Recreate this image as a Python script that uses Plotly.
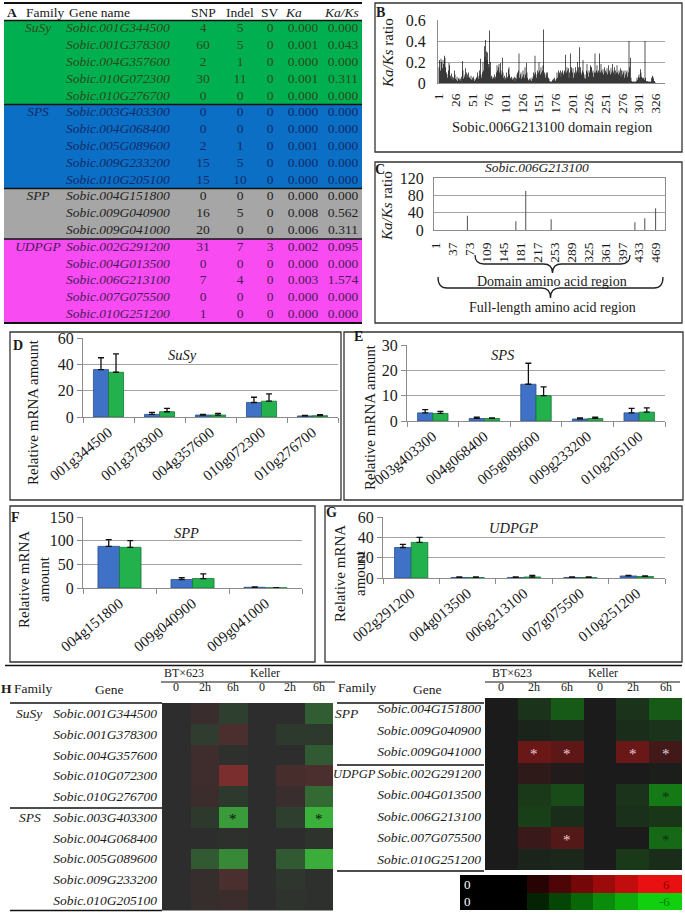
import plotly.graph_objects as go

W, H = 685, 915
FONT = "Liberation Serif"
TXT = "#1a1a1a"

# ---------------- Panel A: table ----------------
families = ["SuSy"] * 5 + ["SPS"] * 5 + ["SPP"] * 3 + ["UDPGP"] * 5
genes = ["Sobic.001G344500", "Sobic.001G378300", "Sobic.004G357600", "Sobic.010G072300", "Sobic.010G276700",
         "Sobic.003G403300", "Sobic.004G068400", "Sobic.005G089600", "Sobic.009G233200", "Sobic.010G205100",
         "Sobic.004G151800", "Sobic.009G040900", "Sobic.009G041000",
         "Sobic.002G291200", "Sobic.004G013500", "Sobic.006G213100", "Sobic.007G075500", "Sobic.010G251200"]
snp = [4, 60, 2, 30, 0, 0, 0, 2, 15, 15, 0, 16, 20, 31, 0, 7, 0, 1]
indel = [5, 5, 1, 11, 0, 0, 0, 1, 5, 10, 0, 5, 0, 7, 0, 4, 0, 0]
sv = [0, 0, 0, 0, 0, 0, 0, 0, 0, 0, 0, 0, 0, 3, 0, 0, 0, 0]
ka = [0.000, 0.001, 0.000, 0.001, 0.000, 0.000, 0.000, 0.001, 0.000, 0.000,
      0.000, 0.008, 0.006, 0.002, 0.000, 0.003, 0.000, 0.000]
kaks = [0.000, 0.043, 0.000, 0.311, 0.000, 0.000, 0.000, 0.000, 0.000, 0.000,
        0.000, 0.562, 0.311, 0.095, 0.000, 1.574, 0.000, 0.000]
family_order = ["SuSy", "SPS", "SPP", "UDPGP"]
family_fill = ["#00B050", "#0B6FC6", "#A6A6A6", "#F84CF2"]
family_ink = {"SuSy": "#2c4a1c", "SPS": "#122b66", "SPP": "#222222", "UDPGP": "#4a1a58"}

# ---------------- Panel B ----------------
b_positions = list(range(1, 326))
b_kaks = [0.15, 0.22, 0.12, 0.23, 0.2, 0.14, 0.22, 0.18, 0.26, 0.24, 0.15, 0.1, 0.08, 0.05, 0.12, 0.19, 0.17, 0.07, 0.04, 0.09, 0.06, 0.03, 0.05, 0.12, 0.08,
          0.04, 0.03, 0.06, 0.02, 0.04, 0.05, 0.03, 0.04, 0.02, 0.06, 0.21, 0.12, 0.04, 0.06, 0.08, 0.14, 0.1, 0.05, 0.08, 0.1, 0.06, 0.05, 0.04, 0.07, 0.03,
          0.05, 0.03, 0.06, 0.02, 0.04, 0.03, 0.05, 0.06, 0.1, 0.04, 0.07, 0.12, 0.23, 0.08, 0.05, 0.1, 0.2, 0.12, 0.35, 0.25, 0.41, 0.3, 0.22, 0.29, 0.18,
          0.15, 0.5, 0.2, 0.05, 0.07, 0.04, 0.06, 0.05, 0.08, 0.04, 0.06, 0.1, 0.17, 0.12, 0.15, 0.18, 0.1, 0.19, 0.12, 0.08, 0.24, 0.1, 0.05, 0.07, 0.03,
          0.05, 0.1, 0.04, 0.06, 0.13, 0.15, 0.08, 0.05, 0.04, 0.06, 0.03, 0.05, 0.04, 0.06, 0.02, 0.05, 0.04, 0.08, 0.1, 0.12, 0.28, 0.05, 0.08, 0.1, 0.04,
          0.06, 0.12, 0.08, 0.05, 0.15, 0.08, 0.19, 0.1, 0.05, 0.03, 0.02, 0.04, 0.03, 0.05, 0.02, 0.04, 0.06, 0.1, 0.08, 0.26, 0.1, 0.05, 0.08, 0.12, 0.1,
          0.2, 0.12, 0.08, 0.15, 0.1, 0.12, 0.17, 0.51, 0.1, 0.08, 0.05, 0.1, 0.07, 0.1, 0.05, 0.04, 0.02, 0.01, 0.02, 0.01, 0.03, 0.02, 0.04, 0.05, 0.03,
          0.02, 0.04, 0.1, 0.05, 0.12, 0.08, 0.1, 0.12, 0.06, 0.1, 0.12, 0.1, 0.08, 0.12, 0.1, 0.27, 0.1, 0.15, 0.12, 0.14, 0.05, 0.1, 0.28, 0.12, 0.15,
          0.1, 0.14, 0.05, 0.1, 0.08, 0.15, 0.1, 0.12, 0.2, 0.15, 0.1, 0.34, 0.15, 0.1, 0.08, 0.12, 0.22, 0.1, 0.05, 0.08, 0.04, 0.12, 0.18, 0.1, 0.06,
          0.12, 0.1, 0.17, 0.15, 0.15, 0.1, 0.12, 0.06, 0.1, 0.28, 0.1, 0.12, 0.17, 0.1, 0.12, 0.1, 0.28, 0.1, 0.18, 0.12, 0.1, 0.13, 0.08, 0.15, 0.1,
          0.12, 0.1, 0.14, 0.08, 0.17, 0.1, 0.12, 0.08, 0.14, 0.1, 0.18, 0.12, 0.1, 0.15, 0.08, 0.12, 0.1, 0.17, 0.1, 0.08, 0.12, 0.1, 0.14, 0.06, 0.12,
          0.08, 0.12, 0.1, 0.05, 0.12, 0.08, 0.1, 0.12, 0.06, 0.1, 0.4, 0.15, 0.24, 0.05, 0.02, 0.01, 0.02, 0.01, 0.01, 0.02, 0.01, 0.02, 0.05, 0.03, 0.06,
          0.08, 0.05, 0.13, 0.1, 0.06, 0.05, 0.04, 0.05, 0.03, 0.4, 0.05, 0.02, 0.01, 0.02, 0.01, 0.02, 0.01, 0.01, 0.02, 0.05, 0.07, 0.06, 0.04, 0.02, 0.01]
b_ticks = [1, 26, 51, 76, 101, 126, 151, 176, 201, 226, 251, 276, 301, 326]

# ---------------- Panel C ----------------
c_positions = [68, 171, 192, 246, 424, 445, 468]
c_kaks = [33, 20, 90, 25, 18, 27, 50]
c_ticks = [1, 37, 73, 109, 145, 181, 217, 253, 289, 325, 361, 397, 433, 469]

# ---------------- Panels D-G (blue = BT×623, green = Keller) ----------------
d_genes = ["001g344500", "001g378300", "004g357600", "010g072300", "010g276700"]
d_bt = [36, 2, 1.5, 11, 0.8]
d_bt_err = [9, 1.5, 0.5, 4, 0.4]
d_kel = [34, 4, 1.5, 12, 1.0]
d_kel_err = [14, 2.5, 1.3, 5.5, 0.8]

e_genes = ["003g403300", "004g068400", "005g089600", "009g233200", "010g205100"]
e_bt = [3.2, 1.0, 14.5, 0.8, 3.2]
e_bt_err = [1.3, 0.5, 8.3, 0.4, 1.8]
e_kel = [3.0, 1.0, 10.0, 1.0, 3.5]
e_kel_err = [0.8, 0.2, 3.5, 0.5, 1.7]

f_genes = ["004g151800", "009g040900", "009g041000"]
f_bt = [88, 18, 1.5]
f_bt_err = [14, 4, 1]
f_kel = [86, 20, 0.5]
f_kel_err = [14, 10, 0.5]

g_genes = ["002g291200", "004g013500", "006g213100", "007g075500", "010g251200"]
g_bt = [30, 0.5, 0.5, 0.5, 2.0]
g_bt_err = [3, 0.5, 0.5, 0.5, 0.5]
g_kel = [35, 0.5, 1.0, 0.5, 1.5]
g_kel_err = [5, 0.5, 1.5, 0.5, 0.5]

# ---------------- Panel H ----------------
h_cols = ["0", "2h", "6h", "0", "2h", "6h"]
h_left_genes = genes[:10]
h_left_z = [[0, 0.4, -0.6, 0, 0, -1.6],
            [0, -0.5, 1.0, 0, -0.4, -0.4],
            [0, 0.6, -0.1, 0, 0, -1.5],
            [0, 0.6, 2.6, 0, 0.9, 1.0],
            [0, 0.5, -0.4, 0, 0.4, -2.0],
            [0, -0.4, -3.7, 0, -0.6, -4.4],
            [0, 0, -0.1, 0, 0, -0.2],
            [0, -1.5, -3.1, 0, -1.5, -4.3],
            [0, 0.3, 1.0, 0, -0.3, -0.1],
            [0, 0.3, 0.5, 0, -0.2, -0.1]]
h_right_genes = genes[10:]
h_right_z = [[0, -0.8, -2.1, 0, -0.8, -2.1],
             [0, -0.3, -0.4, 0, -0.6, -0.8],
             [0, 2.4, 2.0, 0, 2.4, 1.2],
             [0, 0.6, 0.2, 0, 0, -0.1],
             [0, -1.0, -1.6, 0, -0.8, -3.1],
             [0, -1.2, -0.6, 0, -0.7, -0.9],
             [0, 0.9, 1.7, 0, 0, -2.6],
             [0, -0.3, -0.4, 0, -1.0, -0.6]]
h_left_stars = [("Sobic.003G403300", 2), ("Sobic.003G403300", 5)]
h_right_stars_light = [("Sobic.009G041000", 1), ("Sobic.009G041000", 2), ("Sobic.009G041000", 4),
                       ("Sobic.009G041000", 5), ("Sobic.007G075500", 2)]
h_right_stars_dark = [("Sobic.004G013500", 5), ("Sobic.007G075500", 5)]
legend_levels = [[0, 0, 0, 1, 2, 3, 4, 5, 6, 6],
                 [0, 0, 0, -1, -2, -3, -4, -5, -6, -6]]


# ---------------- helpers ----------------
def xd(a, b):
    return [a / W, b / W]


def yd(top, bot):
    return [1 - bot / H, 1 - top / H]


def note(text, x, y, size=14, color=TXT, angle=0, xanchor="center", yanchor="middle"):
    return dict(text=text, x=x / W, y=1 - y / H, xref="paper", yref="paper", showarrow=False,
                font=dict(family=FONT, size=size, color=color), textangle=angle,
                xanchor=xanchor, yanchor=yanchor, borderpad=0)


def hline(y, x0, x1, w=1.2, color="#111"):
    return dict(type="line", xref="paper", yref="paper", x0=x0 / W, x1=x1 / W,
                y0=1 - y / H, y1=1 - y / H, line=dict(color=color, width=w))


def rect(x0, y0, x1, y1, color="#333", w=1.3):
    return dict(type="rect", xref="paper", yref="paper", x0=x0 / W, x1=x1 / W,
                y0=1 - y1 / H, y1=1 - y0 / H, line=dict(color=color, width=w))


def brace(x0, x1, ytop, ymid, ytip, r=9):
    xc = (x0 + x1) / 2

    def P(x, y):
        return f"{x / W:.5f},{1 - y / H:.5f}"
    path = (f"M {P(x0, ytop)} Q {P(x0, ymid)} {P(x0 + r, ymid)} L {P(xc - r, ymid)} "
            f"Q {P(xc, ymid)} {P(xc, ytip)} Q {P(xc, ymid)} {P(xc + r, ymid)} "
            f"L {P(x1 - r, ymid)} Q {P(x1, ymid)} {P(x1, ytop)}")
    return dict(type="path", xref="paper", yref="paper", path=path, line=dict(color="#222", width=1.3))


def diverging(green, base, red):
    return [[0, green], [0.5, base], [1, red]]


fig = go.Figure()
annotations = []
shapes = []

# ---------------- Panel A ----------------
fam_code = [family_order.index(f) for f in families]
fig.add_trace(go.Heatmap(
    x=[4, 362], y=[i - 0.5 for i in range(len(genes) + 1)], z=[[c] for c in fam_code],
    zmin=0, zmax=3, showscale=False, hoverinfo="skip",
    colorscale=[[0, family_fill[0]], [0.17, family_fill[0]], [0.17, family_fill[1]], [0.5, family_fill[1]],
                [0.5, family_fill[2]], [0.83, family_fill[2]], [0.83, family_fill[3]], [1, family_fill[3]]],
    xaxis="x", yaxis="y"))
inks = [family_ink[f] for f in families]
first_rows = [families.index(f) for f in family_order]
fig.add_trace(go.Scatter(
    x=[38] * len(first_rows), y=first_rows, mode="text",
    text=[f"<i>{families[i]}</i>" for i in first_rows],
    textfont=dict(family=FONT, size=13.5, color=[inks[i] for i in first_rows]),
    textposition="middle center", hoverinfo="skip", xaxis="x", yaxis="y"))
fig.add_trace(go.Scatter(
    x=[66] * len(genes), y=list(range(len(genes))), mode="text",
    text=[f"<i>{g}</i>" for g in genes],
    textfont=dict(family=FONT, size=13.5, color=inks),
    textposition="middle right", hoverinfo="skip", xaxis="x", yaxis="y"))
for vals, xpos, fmt in [(snp, 203, "{}"), (indel, 240, "{}"), (sv, 270, "{}"),
                        (ka, 303, "{:.3f}"), (kaks, 343, "{:.3f}")]:
    fig.add_trace(go.Scatter(
        x=[xpos] * len(vals), y=list(range(len(vals))), mode="text",
        text=[fmt.format(v) for v in vals],
        textfont=dict(family=FONT, size=13.5, color=inks),
        textposition="middle center", hoverinfo="skip", xaxis="x", yaxis="y"))

for text, x, anchor in [("<b>A</b>", 5, "left"), ("Family", 24, "left"), ("Gene name", 67, "left"),
                        ("SNP", 203, "center"), ("Indel", 240, "center"), ("SV", 270, "center"),
                        ("<i>Ka</i>", 283, "left"), ("<i>Ka/Ks</i>", 341, "center")]:
    annotations.append(dict(text=text, x=x, y=-1, xref="x", yref="y", showarrow=False,
                            xanchor=anchor, yanchor="middle",
                            font=dict(family=FONT, size=13.5, color=TXT)))
for yv, w in [(-1.55, 2), (-0.5, 1.5), (4.5, 1.5), (9.5, 1.5), (12.5, 1.5), (17.5, 2)]:
    shapes.append(dict(type="line", xref="x", yref="y", x0=4, x1=362, y0=yv, y1=yv,
                       line=dict(color="#111", width=w)))

# ---------------- Panel B ----------------
fig.add_trace(go.Bar(x=b_positions, y=b_kaks, width=1, marker=dict(color="#000", line=dict(width=0)),
                     xaxis="x2", yaxis="y2", hoverinfo="skip"))
# ---------------- Panel C ----------------
fig.add_trace(go.Bar(x=c_positions, y=c_kaks, width=2.2, marker=dict(color="#555", line=dict(width=0)),
                     xaxis="x3", yaxis="y3", hoverinfo="skip"))

# ---------------- Panels D-G ----------------
BLUE, BLUE_L = "#3f72c6", "#2a4f8c"
GREEN, GREEN_L = "#22b14c", "#147a34"
for genes_, bt, bte, kel, kele, ax in [(d_genes, d_bt, d_bt_err, d_kel, d_kel_err, "4"),
                                        (e_genes, e_bt, e_bt_err, e_kel, e_kel_err, "5"),
                                        (f_genes, f_bt, f_bt_err, f_kel, f_kel_err, "6"),
                                        (g_genes, g_bt, g_bt_err, g_kel, g_kel_err, "7")]:
    for vals, errs, col, lcol in [(bt, bte, BLUE, BLUE_L), (kel, kele, GREEN, GREEN_L)]:
        fig.add_trace(go.Bar(
            x=genes_, y=vals, xaxis="x" + ax, yaxis="y" + ax, hoverinfo="skip",
            marker=dict(color=col, line=dict(color=lcol, width=0.8)),
            error_y=dict(type="data", array=errs, arrayminus=[0] * len(errs), symmetric=False,
                         color="#111", thickness=1.3, width=3)))

# ---------------- Panel H ----------------
fig.add_trace(go.Heatmap(z=h_left_z, x=list(range(6)), y=h_left_genes, zmin=-6, zmax=6,
                         colorscale=diverging("#40e040", "#2d2d2d", "#e03030"), showscale=False,
                         xaxis="x8", yaxis="y8", hoverinfo="skip"))
fig.add_trace(go.Heatmap(z=h_right_z, x=list(range(6)), y=h_right_genes, zmin=-6, zmax=6,
                         colorscale=diverging("#10d010", "#1b1b1b", "#e01010"), showscale=False,
                         xaxis="x9", yaxis="y9", hoverinfo="skip"))
fig.add_trace(go.Heatmap(z=legend_levels, x=list(range(10)), y=[0, 1], zmin=-6, zmax=6,
                         colorscale=diverging("#10d010", "#000000", "#e81010"), showscale=False,
                         xaxis="x10", yaxis="y10", hoverinfo="skip"))

for g, c in h_left_stars:
    annotations.append(dict(text="*", x=c, y=g, xref="x8", yref="y8", showarrow=False,
                            font=dict(family=FONT, size=15, color="#111"), yshift=-2))
for g, c in h_right_stars_light:
    annotations.append(dict(text="*", x=c, y=g, xref="x9", yref="y9", showarrow=False,
                            font=dict(family=FONT, size=15, color="#e9cfd6"), yshift=-2))
for g, c in h_right_stars_dark:
    annotations.append(dict(text="*", x=c, y=g, xref="x9", yref="y9", showarrow=False,
                            font=dict(family=FONT, size=15, color="#0f3010"), yshift=-2))
for i, c in enumerate(h_cols):
    annotations.append(dict(text=c, x=i, y=1 - 695 / H, xref="x8", yref="paper", showarrow=False,
                            borderpad=0, font=dict(family=FONT, size=12, color=TXT)))
    annotations.append(dict(text=c, x=i, y=1 - 695 / H, xref="x9", yref="paper", showarrow=False,
                            borderpad=0, font=dict(family=FONT, size=12, color=TXT)))

# ---------------- text annotations ----------------
annotations += [
    note("<b>B</b>", 380, 13, 14),
    note("<i>Ka/Ks</i> ratio", 388, 53, 15, angle=-90),
    note("Sobic.006G213100 domain region", 552, 127, 14.5),
    note("<b>C</b>", 380, 170, 14),
    note("<i>Sobic.006G213100</i>", 537, 168, 13.5),
    note("<i>Ka/Ks</i> ratio", 387, 206, 15, angle=-90),
    note("Domain amino acid region", 552, 281, 14),
    note("Full-length amino acid region", 552, 307, 14),
    note("<b>D</b>", 18, 345, 14),
    note("Relative mRNA amount", 33, 412, 15, angle=-90),
    note("<i>SuSy</i>", 183, 355, 14.5),
    note("<b>E</b>", 358, 336, 14),
    note("Relative mRNA amount", 370, 417, 15, angle=-90),
    note("<i>SPS</i>", 503, 355, 14.5),
    note("<b>F</b>", 16, 517, 14),
    note("Relative mRNA<br>amount", 34, 580, 15, angle=-90),
    note("<i>SPP</i>", 187, 533, 14.5),
    note("<b>G</b>", 331, 512, 14),
    note("Relative mRNA<br>amount", 350, 574, 15, angle=-90),
    note("<i>UDPGP</i>", 513, 528, 14.5),
    note("<b>H</b>", 6, 688, 13.5),
    note("Family", 33, 688, 13.5),
    note("Gene", 109, 689, 13.5),
    note("BT×623", 184, 673, 12),
    note("Keller", 265, 673, 12),
    note("Family", 357, 687, 13.5),
    note("Gene", 427, 689, 13.5),
    note("BT×623", 512, 673, 12),
    note("Keller", 603, 673, 12),
    note("<i>SuSy</i>", 29, 713, 13.5),
    note("<i>SPS</i>", 30, 817, 13.5),
    note("<i>SPP</i>", 346, 713, 13.5),
    note("<i>UDPGP</i>", 354, 774, 12.5),
    note("0", 467, 884, 13, color="#ffffff"),
    note("0", 467, 901, 13, color="#ffffff"),
    note("6", 666, 884, 13, color="#8a0000"),
    note("-6", 664, 901, 13, color="#0a7a0a"),
]

# ---------------- shapes ----------------
shapes += [
    rect(375, 3, 682, 152), rect(375, 162, 682, 323),
    rect(10, 332, 341, 500), rect(344, 332, 683, 500),
    rect(10, 506, 315, 662), rect(325, 506, 682, 662),
    brace(475, 630, 255, 264, 273), brace(438, 663, 277, 288, 298),
    hline(665.5, 5, 682, 1.3),
    hline(682, 161, 335, 1.0), hline(682, 485, 680, 1.0),
    hline(703, 10, 162, 1.5), hline(808, 10, 162, 1.5), hline(910.5, 10, 162, 1.5),
    hline(703, 337, 484, 1.5), hline(765, 337, 484, 1.5), hline(871, 337, 484, 1.5),
]

# ---------------- axes ----------------
tickf = dict(family=FONT, size=16, color=TXT)
hidden = dict(visible=False, showgrid=False, zeroline=False, automargin=False)
GRID = "#a4a4a4"
AXL = "#8c8c8c"

layout = dict(
    width=W, height=H, margin=dict(l=0, r=0, t=0, b=0, pad=0, autoexpand=False),
    paper_bgcolor="white", plot_bgcolor="white", showlegend=False,
    barmode="group", bargap=0.41, bargroupgap=0, hovermode=False,
    annotations=annotations, shapes=shapes,
    # table
    xaxis=dict(domain=xd(0, 365), range=[0, 365], anchor="y", **hidden),
    yaxis=dict(domain=yd(2.1, 324.7), range=[17.6, -1.6], anchor="x", **hidden),
    # B
    xaxis2=dict(domain=xd(438, 665), range=[-0.5, 340], anchor="y2", tickvals=b_ticks, tickangle=-90,
                tickfont=dict(family=FONT, size=13.5, color=TXT), showline=True, linecolor=AXL,
                showgrid=False, zeroline=False, ticks="", ticklabelstandoff=4, automargin=False),
    yaxis2=dict(domain=yd(20, 83), range=[0, 0.6], anchor="x2", tickvals=[0, 0.2, 0.4, 0.6],
                ticktext=["0", "0.2", "0.4", "0.6"], tickfont=tickf, showgrid=True, gridcolor=GRID,
                showline=True, linecolor=AXL, zeroline=False, ticks="", ticklabelstandoff=8,
                automargin=False),
    # C
    xaxis3=dict(domain=xd(434, 665), range=[-3, 488], anchor="y3", tickvals=c_ticks, tickangle=-90,
                tickfont=dict(family=FONT, size=13.5, color=TXT), showline=True, mirror=True,
                linecolor=AXL, showgrid=False, zeroline=False, ticks="", ticklabelstandoff=6,
                automargin=False),
    yaxis3=dict(domain=yd(178, 230), range=[0, 120], anchor="x3", tickvals=[0, 40, 80, 120],
                tickfont=tickf, showgrid=True, gridcolor=GRID, showline=True, mirror=True,
                linecolor=AXL, zeroline=False, ticks="", ticklabelstandoff=6, automargin=False),
)

for ax, xdom, ydom, yr, ytv in [("4", (83, 338), (338, 417), 60, [0, 20, 40, 60]),
                                 ("5", (407, 665), (345, 421), 30, [0, 10, 20, 30]),
                                 ("6", (83, 302), (517, 588), 150, [0, 50, 100, 150]),
                                 ("7", (383, 665), (517, 578), 60, [0, 20, 40, 60])]:
    layout["xaxis" + ax] = dict(domain=xd(*xdom), anchor="y" + ax, type="category", tickangle=-39,
                                tickfont=dict(family=FONT, size=15, color=TXT), showline=True,
                                linecolor=AXL, ticks="outside", tickson="boundaries", ticklen=5,
                                tickcolor=AXL, showgrid=False, zeroline=False, automargin=False)
    layout["yaxis" + ax] = dict(domain=yd(*ydom), anchor="x" + ax, range=[0, yr], tickvals=ytv,
                                tickfont=tickf, showgrid=True, gridcolor=GRID, showline=True,
                                linecolor=AXL, ticks="outside", ticklen=5, tickcolor=AXL,
                                zeroline=False, automargin=False)

layout["xaxis8"] = dict(domain=xd(162, 333), range=[-0.5, 5.5], anchor="y8", **hidden)
layout["yaxis8"] = dict(domain=yd(703, 910.5), anchor="x8", autorange="reversed", type="category",
                        tickvals=h_left_genes, ticktext=[f"<i>{g}</i>" for g in h_left_genes],
                        tickfont=dict(family=FONT, size=13.5, color=TXT), showgrid=False,
                        zeroline=False, showline=False, ticks="", ticklabelstandoff=4,
                        automargin=False)
layout["xaxis9"] = dict(domain=xd(485, 682), range=[-0.5, 5.5], anchor="y9", **hidden)
layout["yaxis9"] = dict(domain=yd(698, 870), anchor="x9", autorange="reversed", type="category",
                        tickvals=h_right_genes, ticktext=[f"<i>{g}</i>" for g in h_right_genes],
                        tickfont=dict(family=FONT, size=13.5, color=TXT), showgrid=False,
                        zeroline=False, showline=False, ticks="", ticklabelstandoff=3,
                        automargin=False)
layout["xaxis10"] = dict(domain=xd(460, 682), range=[-0.5, 9.5], anchor="y10", **hidden)
layout["yaxis10"] = dict(domain=yd(875, 910), range=[1.5, -0.5], anchor="x10", **hidden)

fig.update_layout(**layout)
fig.write_html("out.html", config={"displayModeBar": False, "staticPlot": True},
               post_script="document.body.style.margin='0';document.body.style.overflow='hidden';")
